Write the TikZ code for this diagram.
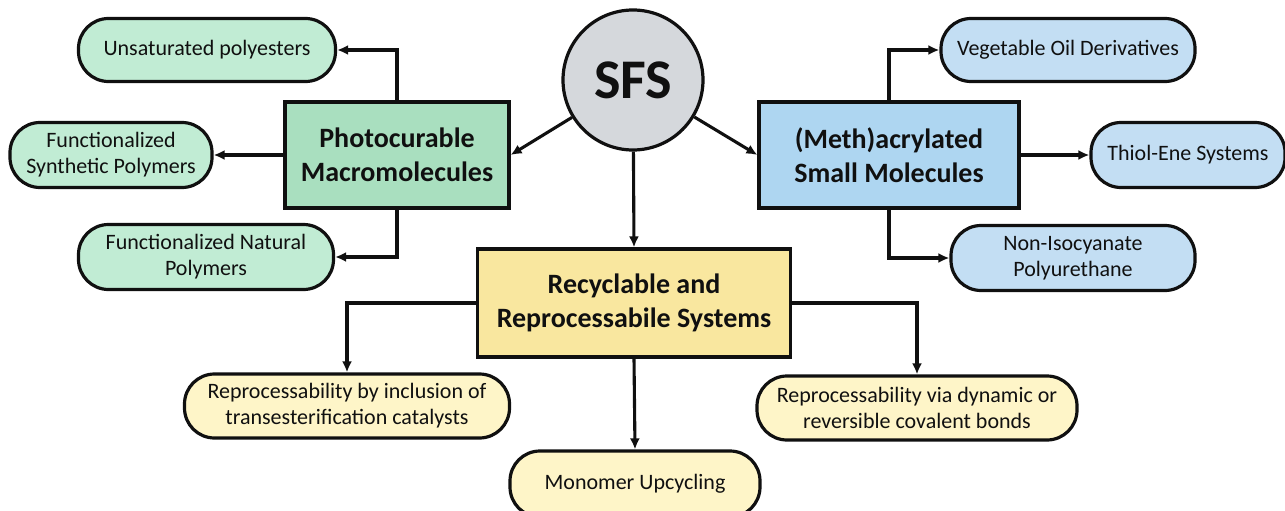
\documentclass[tikz,border=0pt]{standalone}
\usepackage{fontspec}
\setmainfont{Carlito}
\usetikzlibrary{arrows.meta}
\definecolor{gbox}{HTML}{A9DFBF}
\definecolor{gpill}{HTML}{C1ECD4}
\definecolor{bbox}{HTML}{AED6F1}
\definecolor{bpill}{HTML}{C3DEF3}
\definecolor{ybox}{HTML}{F9E79F}
\definecolor{ypill}{HTML}{FEF5C8}
\definecolor{cgray}{HTML}{D5D8DC}
\definecolor{ink}{HTML}{101010}
\tikzset{
  pill/.style={draw=ink, line width=3.2pt, rounded corners=30pt, minimum height=63pt, align=center, inner sep=0pt, text=ink, font=\fontsize{22}{26}\selectfont},
  mainbox/.style={draw=ink, line width=3.2pt, minimum height=106pt, align=center, inner sep=0pt, text=ink, font=\fontsize{28}{34}\selectfont\bfseries},
  conn/.style={draw=ink, line width=3.1pt, -{Latex[length=11pt,width=10pt]}},
}
\begin{document}
\begin{tikzpicture}[x=1pt,y=-1pt]
\useasboundingbox (0,0) rectangle (1285,511);
% central circle
\node[circle, draw=ink, line width=3.2pt, fill=cgray, minimum size=140pt, inner sep=0pt, text=ink, font=\fontsize{56}{60}\selectfont\bfseries] (sfs) at (633,80) {SFS};
% main boxes
\node[mainbox, fill=gbox, minimum width=224pt] (photo) at (397,155) {Photocurable\\Macromolecules};
\node[mainbox, fill=bbox, minimum width=260pt] (meth) at (889,155) {(Meth)acrylated\\Small Molecules};
\node[mainbox, fill=ybox, minimum width=313pt, minimum height=108pt] (recyc) at (634,303) {Recyclable and\\Reprocessabile Systems};
% green pills
\node[pill, fill=gpill, minimum width=257pt] (unsat) at (207,50) {Unsaturated polyesters};
\node[pill, fill=gpill, minimum width=202pt, minimum height=65pt] (fsyn) at (111,155) {Functionalized\\Synthetic Polymers};
\node[pill, fill=gpill, minimum width=255pt, minimum height=65pt] (fnat) at (206,257) {Functionalized Natural\\Polymers};
% blue pills
\node[pill, fill=bpill, minimum width=254pt] (veg) at (1068,50) {Vegetable Oil Derivatives};
\node[pill, fill=bpill, minimum width=194pt, minimum height=65pt] (thiol) at (1188,155) {Thiol-Ene Systems};
\node[pill, fill=bpill, minimum width=244pt, minimum height=65pt] (noniso) at (1073,258) {Non-Isocyanate\\Polyurethane};
% yellow pills
\node[pill, fill=ypill, minimum width=325pt, minimum height=64pt] (rep1) at (347,406) {Reprocessability by inclusion of\\transesterification catalysts};
\node[pill, fill=ypill, minimum width=250pt, minimum height=66pt] (mono) at (635,484) {Monomer Upcycling};
\node[pill, fill=ypill, minimum width=320pt, minimum height=64pt] (rep2) at (917,408) {Reprocessability via dynamic or\\reversible covalent bonds};
% connectors
\draw[conn] (sfs) -- (photo.east);
\draw[conn] (sfs) -- (meth.west);
\draw[conn] (sfs) -- (recyc.north);
\draw[conn] (photo.north) |- (unsat.east);
\draw[conn] (photo.west) -- (fsyn.east);
\draw[conn] (photo.south) |- (fnat.east);
\draw[conn] (meth.north) |- (veg.west);
\draw[conn] (meth.east) -- (thiol.west);
\draw[conn] (meth.south) |- (noniso.west);
\draw[conn] (recyc.west) -| (rep1.north);
\draw[conn] (recyc.east) -| (rep2.north);
\draw[conn] (recyc.south) -- (mono.north);
\end{tikzpicture}
\end{document}
